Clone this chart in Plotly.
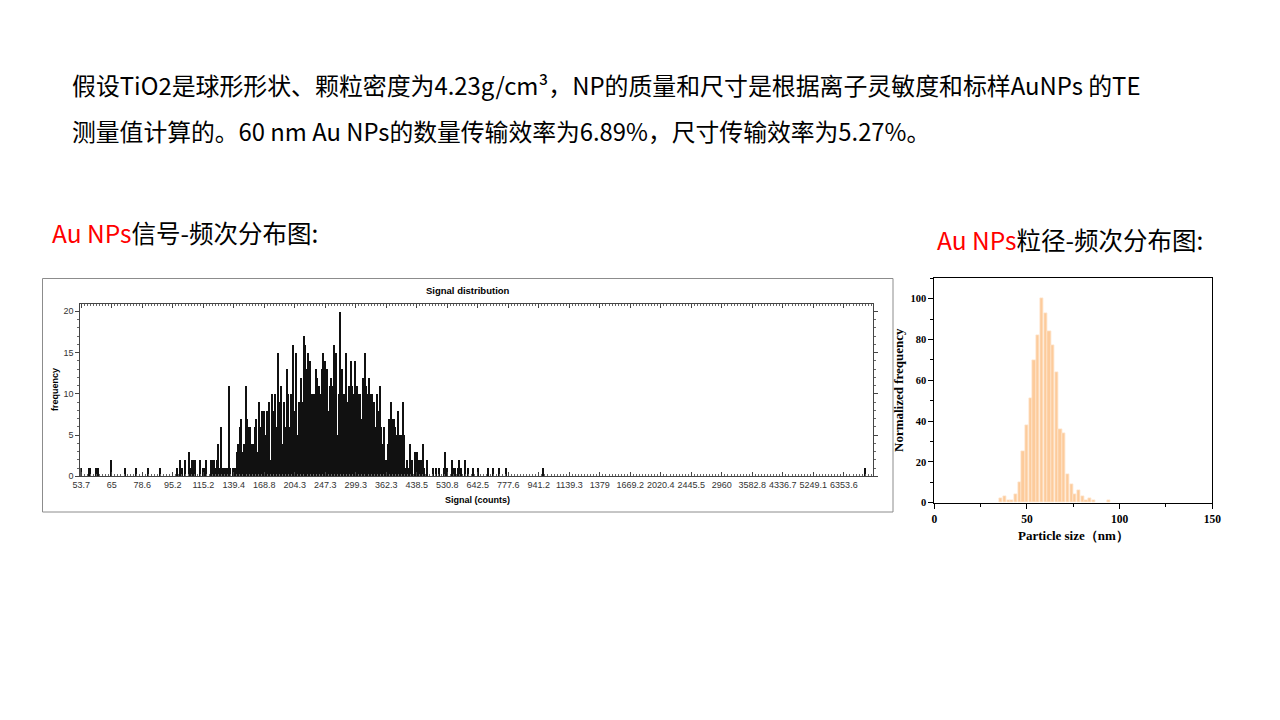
import plotly.graph_objects as go

W, H = 1280, 720

# ---------------- data ----------------
# Left chart: signal histogram (log-spaced signal bins, index -> count)
signal_bin = [0, 5, 6, 10, 11, 20, 29, 36, 44, 52, 63, 65, 66, 68, 71, 72, 73, 74, 75, 78,
              80, 81, 82, 85, 86, 87, 88, 89, 90, 91, 92, 93, 94, 95, 96, 97, 98, 100, 101, 102,
              103, 104, 105, 106, 107, 108, 109, 110, 111, 112, 113, 114, 115, 116, 117, 118, 119, 120, 121, 122,
              123, 124, 125, 126, 127, 128, 129, 130, 131, 132, 133, 134, 135, 136, 137, 138, 139, 140, 141, 142,
              143, 144, 145, 146, 147, 148, 149, 150, 151, 152, 153, 154, 155, 156, 157, 158, 159, 160, 161, 162,
              163, 164, 165, 166, 167, 168, 169, 170, 171, 172, 173, 174, 175, 176, 177, 178, 179, 180, 181, 182,
              183, 184, 185, 186, 187, 188, 189, 190, 191, 192, 193, 194, 195, 196, 197, 198, 199, 200, 201, 202,
              203, 204, 205, 206, 207, 208, 209, 210, 211, 212, 213, 214, 215, 216, 217, 219, 220, 221, 222, 223,
              224, 225, 227, 231, 233, 235, 238, 239, 240, 243, 244, 245, 247, 248, 249, 252, 254, 257, 260, 267,
              270, 274, 279, 303, 514]
signal_freq = [1, 1, 1, 1, 1, 2, 1, 1, 1, 1, 1, 2, 1, 2, 3, 1, 2, 2, 2, 2,
               1, 1, 2, 2, 2, 2, 1, 2, 4, 1, 6, 1, 1, 1, 1, 11, 1, 1, 1, 3,
               4, 6, 7, 3, 4, 11, 7, 6, 6, 4, 4, 6, 7, 3, 9, 6, 8, 8, 5, 8,
               9, 2, 10, 8, 10, 6, 15, 9, 11, 4, 9, 6, 13, 10, 6, 10, 16, 8, 15, 5,
               9, 12, 9, 17, 16, 13, 15, 14, 10, 10, 10, 13, 12, 11, 10, 13, 15, 14, 13, 8,
               11, 12, 11, 16, 15, 5, 10, 20, 13, 10, 10, 15, 9, 11, 14, 11, 10, 14, 11, 10,
               10, 7, 12, 15, 11, 10, 12, 10, 10, 9, 6, 10, 8, 11, 6, 4, 6, 2, 4, 7,
               9, 7, 7, 6, 5, 8, 5, 5, 9, 5, 1, 2, 1, 4, 2, 3, 3, 2, 2, 2,
               4, 1, 2, 1, 1, 1, 1, 3, 1, 2, 1, 1, 1, 2, 1, 2, 1, 1, 1, 1,
               1, 1, 1, 1, 1]
signal_tick_labels = ["53.7", "65", "78.6", "95.2", "115.2", "139.4", "168.8", "204.3", "247.3",
                      "299.3", "362.3", "438.5", "530.8", "642.5", "777.6", "941.2", "1139.3",
                      "1379", "1669.2", "2020.4", "2445.5", "2960", "3582.8", "4336.7", "5249.1",
                      "6353.6"]
signal_tick_bins = [0, 20, 40, 60, 80, 100, 120, 140, 160, 180, 200, 220, 240, 260, 280, 300,
                    320, 340, 360, 380, 400, 420, 440, 460, 480, 500]

# Right chart: particle size distribution (nm -> normalized frequency)
size_nm = [36, 38, 40, 42, 44, 46, 48, 50, 52, 54, 56, 58, 60, 62, 64, 66, 68, 70, 72, 74,
           76, 78, 80, 82, 84, 86, 94]
size_freq = [2, 3, 1, 1, 4, 10, 25, 38, 51, 70, 82, 100, 93, 84, 77, 64, 36, 34, 14, 9,
             4, 6, 3, 1, 2, 1, 1]

# ---------------- helpers ----------------
# the page body has an 8px margin, so screen pixel p maps to figure pixel p - 8
OFF = 8

def px_x(x):
    return (x - OFF) / W

def px_y(y):
    return 1 - (y - OFF) / H

fig = go.Figure()

fig.add_trace(go.Bar(
    x=signal_bin, y=signal_freq, xaxis="x", yaxis="y",
    marker=dict(color="#111111", line=dict(width=0)), width=0.7, showlegend=False,
))

fig.add_trace(go.Bar(
    x=size_nm, y=size_freq, xaxis="x2", yaxis="y2",
    marker=dict(color="#FDCB9B", line=dict(color="#FEE4CC", width=0.8)),
    width=1.75, showlegend=False,
))

small = dict(family="Liberation Sans, Arial", size=9, color="#333333")
serif_tick = dict(family="Liberation Serif, Times New Roman", size=11.5, color="black", weight="bold")

fig.update_layout(
    width=W, height=H,
    margin=dict(l=0, r=0, t=0, b=0, pad=0, autoexpand=False),
    paper_bgcolor="white", plot_bgcolor="white",
    bargap=0,
    xaxis=dict(
        domain=[px_x(80.3), px_x(873.3)], anchor="y", automargin=False,
        range=[-0.66, 519.3],
        tickmode="array", tickvals=signal_tick_bins, ticktext=signal_tick_labels,
        tickfont=small, ticks="inside", ticklen=4, tickcolor="#444",
        showline=True, linecolor="#444", linewidth=1, mirror="ticks",
        showgrid=False, zeroline=False,
        minor=dict(dtick=2, tick0=0, ticks="inside", ticklen=2, tickcolor="#666"),
    ),
    yaxis=dict(
        domain=[px_y(476.3), px_y(303.7)], anchor="x", automargin=False,
        range=[0, 20.92],
        tickvals=[0, 5, 10, 15, 20], tickfont=small,
        ticks="outside", ticklen=4, tickcolor="#444",
        showline=True, linecolor="#444", linewidth=1, mirror="ticks",
        showgrid=False, zeroline=False,
        minor=dict(dtick=1, ticks="outside", ticklen=2, tickcolor="#666"),
    ),
    xaxis2=dict(
        domain=[px_x(934.3), px_x(1212.3)], anchor="y2", automargin=False,
        range=[0, 150], tickvals=[0, 50, 100, 150],
        tickfont=serif_tick,
        ticks="outside", ticklen=5, tickcolor="black",
        showline=True, linecolor="black", linewidth=1, mirror=True,
        showgrid=False, zeroline=False,
        minor=dict(dtick=25, tick0=0, ticks="outside", ticklen=3, tickcolor="black"),
    ),
    yaxis2=dict(
        domain=[px_y(502.7), px_y(278.3)], anchor="x2", automargin=False,
        range=[0, 110], tickvals=[0, 20, 40, 60, 80, 100],
        tickfont=dict(family="Liberation Serif, Times New Roman", size=10.5, color="black", weight="bold"),
        ticks="outside", ticklen=5, tickcolor="black",
        showline=True, linecolor="black", linewidth=1, mirror=True,
        showgrid=False, zeroline=False,
        minor=dict(dtick=10, tick0=0, ticks="outside", ticklen=3, tickcolor="black"),
    ),
    shapes=[dict(type="rect", xref="paper", yref="paper",
                 x0=px_x(42.5), x1=px_x(893), y0=px_y(512), y1=px_y(278.5),
                 line=dict(color="#8c8c8c", width=1), fillcolor="rgba(0,0,0,0)", layer="below")],
)

cjk = "Noto Sans CJK SC"
ann = []

def text(x, y, s, size, color="black", family=cjk, anchor="left", angle=0, bold=False):
    if bold:
        s = "<b>" + s + "</b>"
    ann.append(dict(x=px_x(x), y=px_y(y), xref="paper", yref="paper", text=s,
                    showarrow=False, xanchor=anchor, yanchor="middle", textangle=angle,
                    font=dict(family=family, size=size, color=color)))

text(70, 85, "假设TiO2是球形形状、颗粒密度为4.23g/cm³，NP的质量和尺寸是根据离子灵敏度和标样AuNPs 的TE", 23.9)
text(70, 130, "测量值计算的。60 nm Au NPs的数量传输效率为6.89%，尺寸传输效率为5.27%。", 23.8)
text(50, 232, "<span style='color:#FF0000'>Au NPs</span>信号-频次分布图:", 24.5)
text(935, 240, "<span style='color:#FF0000'>Au NPs</span>粒径-频次分布图:", 24.5)

text(468, 291, "Signal distribution", 9.5, family="Liberation Sans, Arial", anchor="center", bold=True)
text(477, 500, "Signal (counts)", 9, family="Liberation Sans, Arial", anchor="center", bold=True)
text(55, 390, "frequency", 9, family="Liberation Sans, Arial", anchor="center", angle=-90, bold=True)

text(1073, 535, "Particle size（nm）", 13, family="Liberation Serif, Times New Roman", anchor="center", bold=True)
text(898, 390, "Normalized frequency", 13, family="Liberation Serif, Times New Roman", anchor="center", angle=-90, bold=True)

fig.update_layout(annotations=ann)

fig.write_html("out.html")
